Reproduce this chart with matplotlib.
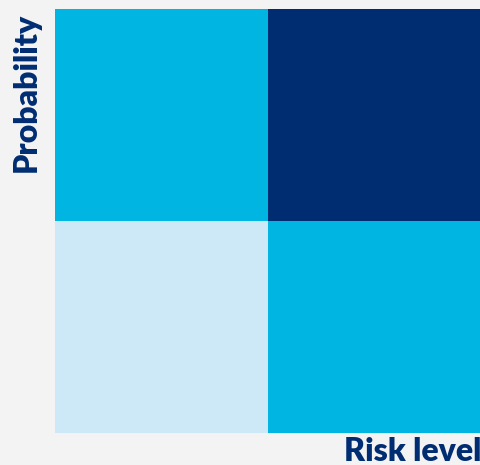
import matplotlib
matplotlib.use("Agg")
import matplotlib.pyplot as plt
from matplotlib.colors import ListedColormap, BoundaryNorm
import numpy as np

# Risk matrix: rows = probability (low, high), cols = impact (low, high)
probability_levels = ["Low", "High"]
impact_levels = ["Low", "High"]
risk_scores = [[1, 2],
               [2, 3]]
level_colors = ["#cde8f6", "#00b5e2", "#002d72"]

bg = "#f3f3f3"
fig = plt.figure(figsize=(4.81, 4.65), dpi=100, facecolor=bg)
ax = fig.add_axes([55/481, 32/465, 426/481, 424/465])
cmap = ListedColormap(level_colors)
norm = BoundaryNorm([0.5, 1.5, 2.5, 3.5], cmap.N)
ax.pcolormesh(np.arange(len(impact_levels) + 1), np.arange(len(probability_levels) + 1),
              np.array(risk_scores), cmap=cmap, norm=norm, edgecolor="none")
ax.set_xlim(0, 2)
ax.set_ylim(0, 2)
ax.set_axis_off()

navy = "#002d72"
fig.text(26/481, 1 - 92/465, "Probability", rotation=90, ha="center", va="center",
         fontsize=23, fontweight="heavy", color=navy, family="Lato")
fig.text(481/481, 1 - 451/465, "Risk level", ha="right", va="center",
         fontsize=23, fontweight="heavy", color=navy, family="Lato")

fig.savefig("out.png", dpi=100, facecolor=bg)
